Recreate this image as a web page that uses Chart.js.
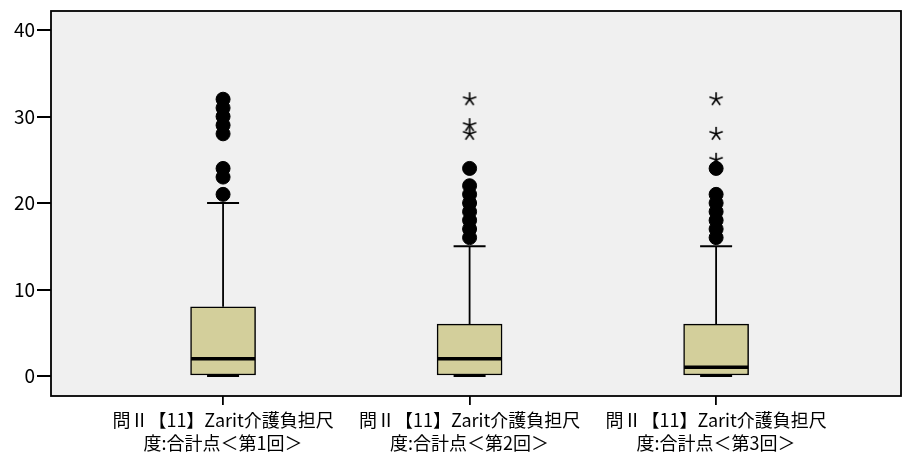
<!DOCTYPE html>
<html>
<head>
<meta charset="utf-8">
<script src="https://cdn.jsdelivr.net/npm/chart.js@4.4.0/dist/chart.umd.min.js"></script>
<style>
  html, body { margin: 0; padding: 0; background: #fff; overflow: hidden; }
  #wrap { width: 909px; height: 458px; position: relative; }
</style>
</head>
<body>
<div id="wrap"><canvas id="boxChart"></canvas></div>
<script>
// box plot data
const categories = [
    ['問Ⅱ【11】Zarit介護負担尺', '度:合計点＜第1回＞'],
    ['問Ⅱ【11】Zarit介護負担尺', '度:合計点＜第2回＞'],
    ['問Ⅱ【11】Zarit介護負担尺', '度:合計点＜第3回＞']
];
const whiskerLow = [0, 0, 0];
const q1 = [0, 0, 0];
const median = [2, 2, 1];
const q3 = [8, 6, 6];
const whiskerHigh = [20, 15, 15];
const outliers = [
    [21, 23, 24, 28, 29, 30, 31, 32],
    [16, 17, 18, 19, 20, 21, 22, 24],
    [16, 17, 18, 19, 20, 21, 24]
];
const extremes = [
    [],
    [28, 29, 32],
    [25, 28, 32]
];
const yTicks = [0, 10, 20, 30, 40];

const boxColor = '#d3cf9b';
const font = "'Noto Sans CJK JP', 'Noto Sans', sans-serif";

// asterisk marker for extreme values
const starImg = document.createElement('canvas');
starImg.width = 16; starImg.height = 16;
(function () {
    const c = starImg.getContext('2d');
    c.strokeStyle = '#000';
    c.lineWidth = 1.6;
    c.beginPath();
    for (let i = 0; i < 5; i++) {
        const a = -Math.PI / 2 + i * 2 * Math.PI / 5;
        c.moveTo(8, 8);
        c.lineTo(8 + 7 * Math.cos(a), 8 + 7 * Math.sin(a));
    }
    c.stroke();
})();

const boxData = categories.map((c, i) => ({ x: i + 1, y: [q1[i], q3[i]] }));
const outData = [];
outliers.forEach((arr, i) => arr.forEach(v => outData.push({ x: i + 1, y: v })));
const extData = [];
extremes.forEach((arr, i) => arr.forEach(v => extData.push({ x: i + 1, y: v })));

// drop the label overflow padding so the plot area keeps its place
function noPad(s) {
    s.paddingLeft = 0; s.paddingRight = 0;
    s.paddingTop = 0; s.paddingBottom = 0;
}

// background, whiskers, median and frame
const boxDecor = {
    id: 'boxDecor',
    beforeDraw(chart) {
        const a = chart.chartArea, ctx = chart.ctx;
        ctx.save();
        ctx.fillStyle = '#f0f0f0';
        ctx.fillRect(a.left, a.top, a.right - a.left, a.bottom - a.top);
        ctx.restore();
    },
    afterDatasetsDraw(chart) {
        const ctx = chart.ctx, xs = chart.scales.x, ys = chart.scales.y;
        ctx.save();
        ctx.strokeStyle = '#000';
        categories.forEach((c, i) => {
            const x = xs.getPixelForValue(i + 1);
            ctx.lineWidth = 1.8;
            ctx.beginPath();
            ctx.moveTo(x, ys.getPixelForValue(q3[i]));
            ctx.lineTo(x, ys.getPixelForValue(whiskerHigh[i]));
            ctx.moveTo(x - 16, ys.getPixelForValue(whiskerHigh[i]));
            ctx.lineTo(x + 16, ys.getPixelForValue(whiskerHigh[i]));
            ctx.moveTo(x - 16, ys.getPixelForValue(whiskerLow[i]));
            ctx.lineTo(x + 16, ys.getPixelForValue(whiskerLow[i]));
            ctx.stroke();
            ctx.lineWidth = 3.5;
            ctx.beginPath();
            ctx.moveTo(x - 32, ys.getPixelForValue(median[i]));
            ctx.lineTo(x + 32, ys.getPixelForValue(median[i]));
            ctx.stroke();
        });
        ctx.restore();
    },
    afterDraw(chart) {
        const a = chart.chartArea, ctx = chart.ctx;
        ctx.save();
        ctx.strokeStyle = '#000';
        ctx.lineWidth = 1.8;
        ctx.strokeRect(a.left, a.top, a.right - a.left, a.bottom - a.top);
        ctx.restore();
    }
};

const ctx = document.getElementById('boxChart').getContext('2d');
const boxChart = new Chart(ctx, {
    type: 'bar',
    data: {
        datasets: [{
            type: 'bar',
            data: boxData,
            backgroundColor: boxColor,
            borderColor: '#000',
            borderWidth: 1.5,
            borderSkipped: false,
            barThickness: 65,
            order: 2
        }, {
            type: 'scatter',
            data: outData,
            pointStyle: 'circle',
            pointRadius: 7,
            backgroundColor: '#000',
            borderColor: '#000',
            order: 1
        }, {
            type: 'scatter',
            data: extData,
            pointStyle: starImg,
            order: 1
        }]
    },
    options: {
        responsive: true,
        maintainAspectRatio: false,
        animation: false,
        layout: { padding: { top: 11, right: 3, left: 0, bottom: 0 } },
        plugins: {
            legend: { display: false },
            tooltip: { enabled: false }
        },
        scales: {
            x: {
                type: 'linear',
                min: 0.302,
                max: 3.75,
                offset: false,
                afterBuildTicks: s => { s.ticks = categories.map((c, i) => ({ value: i + 1 })); },
                afterFit: s => { s.height = 62; noPad(s); },
                border: { display: false },
                grid: { offset: false, drawOnChartArea: false, color: '#000', lineWidth: 1.8, tickLength: 9 },
                ticks: {
                    autoSkip: false,
                    maxRotation: 0,
                    padding: 4,
                    color: '#000',
                    font: { family: font, size: 18, lineHeight: 1.28 },
                    callback: v => categories[v - 1]
                }
            },
            y: {
                min: -2.31,
                max: 42.2,
                afterBuildTicks: s => { s.ticks = yTicks.map(v => ({ value: v })); },
                afterFit: s => { s.width = 51; noPad(s); },
                border: { display: false },
                grid: { drawOnChartArea: false, color: '#000', lineWidth: 2, tickLength: 14 },
                ticks: {
                    padding: 2,
                    color: '#000',
                    font: { family: font, size: 19 }
                }
            }
        }
    },
    plugins: [boxDecor]
});
</script>
</body>
</html>
